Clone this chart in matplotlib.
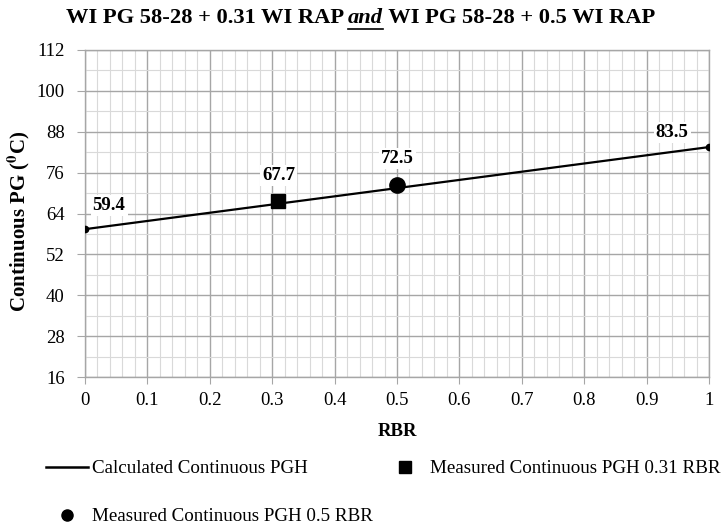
import matplotlib.pyplot as plt
from matplotlib.lines import Line2D

plt.rcParams['font.family'] = ['Liberation Serif', 'DejaVu Serif']
plt.rcParams['mathtext.fontset'] = 'stix'

# calculated line (end points) and the two measured values
rbr_calc = [0.0, 1.0]
pg_calc = [59.4, 83.5]
rbr_031 = 0.31
pg_031 = 67.7
rbr_05 = 0.5
pg_05 = 72.5

x_ticks = [i / 10 for i in range(11)]
x_labels = ['0', '0.1', '0.2', '0.3', '0.4', '0.5', '0.6', '0.7', '0.8', '0.9', '1']
y_ticks = list(range(16, 113, 12))

W, H = 721, 527
fig = plt.figure(figsize=(W / 100, H / 100), dpi=100)
ax = fig.add_axes([85 / W, 1 - 377 / H, 624 / W, 327 / H])

major_c = '#a6a6a6'
minor_c = '#d9d9d9'

ax.plot(rbr_calc, pg_calc, color='black', lw=1.6, marker='o', ms=4.5, zorder=3)
ax.plot([rbr_031], [pg_031], ls='none', marker='s', ms=10.5, color='black', zorder=4)
ax.plot([rbr_05], [pg_05], ls='none', marker='o', ms=11, color='black', zorder=4)

ax.set_xlim(0, 1)
ax.set_ylim(16, 112)
ax.set_xticks(x_ticks, x_labels)
ax.set_xticks([i / 50 for i in range(51)], minor=True)
ax.set_yticks(y_ticks)
ax.set_yticks(list(range(16, 113, 6)), minor=True)

ax.grid(which='major', color=major_c, lw=1.0, zorder=0)
ax.grid(which='minor', color=minor_c, lw=0.8, zorder=0)
ax.set_axisbelow(True)
for s in ax.spines.values():
    s.set_color(major_c)
    s.set_linewidth(1.0)
ax.tick_params(which='major', color=major_c, labelsize=13.5)
ax.tick_params(axis='x', which='major', length=5, pad=6)
ax.tick_params(axis='y', which='major', length=6, pad=8.5)
ax.tick_params(which='minor', length=0)

bbox = dict(facecolor='white', edgecolor='none', pad=1.5)
lbl = dict(textcoords='offset pixels', ha='center', va='center',
           fontsize=13.5, fontweight='bold', bbox=bbox, zorder=5)
ax.annotate('%.1f' % pg_calc[0], (rbr_calc[0], pg_calc[0]), xytext=(24, 24), **lbl)
ax.annotate('%.1f' % pg_031, (rbr_031, pg_031), xytext=(0, 25), **lbl)
ax.annotate('%.1f' % pg_05, (rbr_05, pg_05), xytext=(0, 26), **lbl)
ax.annotate('%.1f' % pg_calc[1], (rbr_calc[1], pg_calc[1]), xytext=(-37, 15), **lbl)

ax.set_xlabel('RBR', fontsize=13.5, fontweight='bold', labelpad=10)
ax.set_ylabel(r'Continuous PG ($\mathbf{^{0}}$C)', fontsize=15, fontweight='bold')
ax.yaxis.set_label_coords(-0.085, 0.477)

# title in three pieces, the italic "and" underlined, centred as a whole
ty = 1 - 18 / H
parts = [('WI PG 58-28 + 0.31 WI RAP ', 'normal'), ('and', 'italic'),
         (' WI PG 58-28 + 0.5 WI RAP', 'normal')]
texts = [fig.text(0, ty, s, ha='left', va='center', fontsize=16.2, fontweight='bold', style=st)
         for s, st in parts]
fig.canvas.draw()
r = fig.canvas.get_renderer()
widths = [t.get_window_extent(r).width for t in texts]
x = (W - sum(widths)) / 2
for t, w in zip(texts, widths):
    t.set_x(x / W)
    x += w
bb = texts[1].get_window_extent(r)
x0 = (W - sum(widths)) / 2 + widths[0]
fig.add_artist(Line2D([x0 / W, (x0 + widths[1]) / W], [(bb.y0 - 1) / H] * 2,
                      color='black', lw=1.2))

handles = [Line2D([], [], color='black', lw=1.8),
           Line2D([], [], ls='none', marker='o', ms=8, color='black'),
           Line2D([], [], ls='none', marker='s', ms=8, color='black')]
labels = ['Calculated Continuous PGH', 'Measured Continuous PGH 0.5 RBR',
          'Measured Continuous PGH 0.31 RBR']
fig.legend(handles, labels, loc='upper left', bbox_to_anchor=(29 / W, 1 - 443 / H),
           ncol=2, frameon=False, fontsize=13.7, handlelength=2.2, handletextpad=0.2,
           columnspacing=0.6, labelspacing=1.6)

fig.savefig('out.png', dpi=100)
